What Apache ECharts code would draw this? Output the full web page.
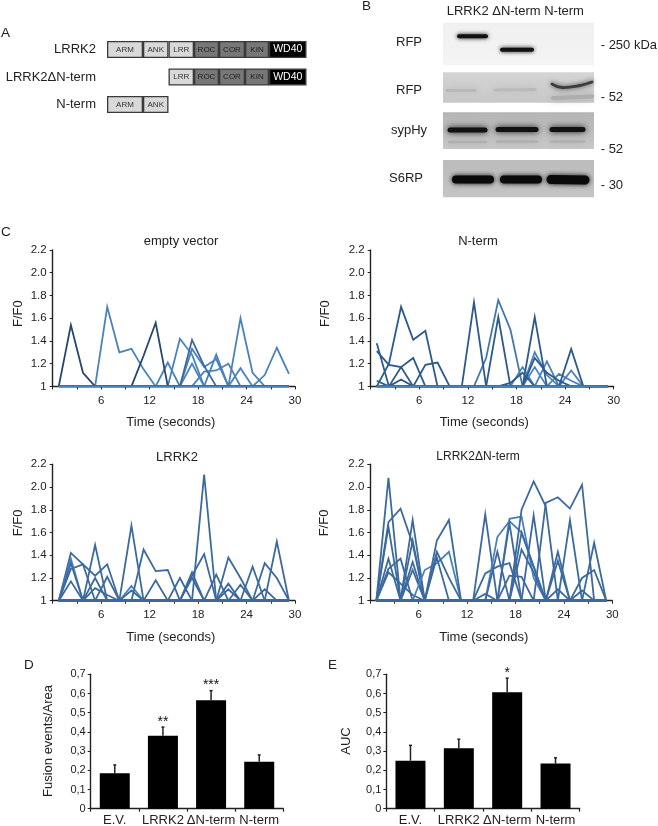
<!DOCTYPE html>
<html><head><meta charset="utf-8">
<style>html,body{margin:0;padding:0;background:#fff}#c{width:658px;height:826px}</style>
<script src="https://cdn.jsdelivr.net/npm/echarts@6/dist/echarts.min.js"></script>
</head><body><div id="c"></div>
<script>
// ---------- data ----------
const sampleTimes = [0.75,2.25,3.75,5.25,6.75,8.25,9.75,11.25,12.75,14.25,15.75,17.25,18.75,20.25,21.75,23.25,24.75,26.25,27.75,29.25];
const emptyVector = [
 [1,1,1,1,1,1,1,1,1,1.21,1,1,1,1,1,1,1,1,1,1],
 [1,1,1,1,1,1,1,1,1,1,1.42,1.28,1,1,1,1,1,1,1,1],
 [1,1,1,1,1,1,1,1,1,1,1,1.33,1.17,1.24,1,1,1,1,1,1],
 [1,1,1,1,1,1,1,1,1,1,1,1.2,1,1,1,1,1,1,1,1],
 [1,1,1,1,1,1,1,1,1,1,1,1,1,1.28,1,1,1,1,1,1],
 [1,1,1,1,1,1,1,1,1,1,1,1,1.13,1.14,1.2,1,1,1,1,1],
 [1,1,1,1,1,1,1,1,1,1,1,1,1,1,1,1.6,1.12,1,1,1],
 [1,1,1,1,1,1,1,1,1,1,1,1,1,1,1,1.16,1,1.1,1.34,1.11],
 [1,1,1,1,1.7,1.3,1.33,1.15,1,1,1,1,1,1,1,1,1,1,1,1],
 [1,1,1,1,1,1,1,1,1,1,1,1,1,1,1,1,1,1,1,1],
 [1,1,1,1,1,1,1,1,1,1,1,1.41,1.18,1,1,1,1,1,1,1],
 [1,1.54,1.12,1,1,1,1,1,1,1,1,1,1,1,1,1,1,1,1,1],
 [1,1,1,1,1,1,1,1.27,1.56,1,1,1,1,1,1,1,1,1,1,1]
];
const nTerm = [
 [1,1,1,1,1,1,1,1,1,1,1,1,1.17,1,1,1,1,1,1,1],
 [1,1,1,1,1,1,1,1,1,1,1,1,1,1.3,1.1,1,1,1,1,1],
 [1,1,1,1,1,1,1,1,1,1,1,1,1,1.17,1,1,1,1,1,1],
 [1,1,1,1,1,1,1,1,1,1,1,1,1,1,1.22,1,1,1,1,1],
 [1,1,1,1,1,1,1,1,1,1,1,1,1,1,1,1.11,1.05,1,1,1],
 [1,1,1,1,1,1,1,1,1,1,1,1,1,1,1,1,1.14,1,1,1],
 [1,1,1,1,1,1,1,1,1,1,1,1,1,1,1,1,1,1,1,1],
 [1,1,1,1,1,1,1,1,1,1.25,1.76,1.5,1,1,1,1,1,1,1,1],
 [1,1.2,1.7,1.41,1.49,1,1,1,1,1,1,1,1,1,1,1,1,1,1,1],
 [1.38,1,1,1,1,1,1,1,1,1,1,1,1,1,1,1,1,1,1,1],
 [1.31,1.19,1.17,1,1,1,1,1,1,1,1,1,1,1,1,1,1,1,1,1],
 [1.05,1,1.06,1,1,1,1,1,1,1,1,1,1,1,1,1,1,1,1,1],
 [1,1,1.17,1.25,1,1,1,1,1,1,1,1,1,1,1,1,1,1,1,1],
 [1,1,1,1,1.19,1.21,1,1,1,1,1,1,1,1,1,1,1,1,1,1],
 [1,1,1,1,1,1,1,1,1.74,1,1,1,1,1,1,1,1,1,1,1],
 [1,1,1,1,1,1,1,1,1,1,1.61,1,1,1,1,1,1,1,1,1],
 [1,1,1,1,1,1,1,1,1,1,1,1.03,1.12,1,1,1,1,1,1,1],
 [1,1,1,1,1,1,1,1,1,1,1,1,1,1.61,1,1,1,1,1,1],
 [1,1,1,1,1,1,1,1,1,1,1,1,1,1.25,1.12,1.05,1,1,1,1],
 [1,1,1,1,1,1,1,1,1,1,1,1,1,1,1,1,1.33,1,1,1]
];
const lrrk2 = [
 [1,1.42,1.32,1.22,1.32,1,1,1,1,1,1,1,1,1,1,1,1,1,1,1],
 [1,1.28,1.32,1,1,1,1,1,1,1,1,1,1,1,1,1,1,1,1,1],
 [1,1.37,1,1,1,1,1,1,1,1,1,1,1,1,1,1,1,1,1,1],
 [1,1.33,1,1,1,1,1,1,1,1,1,1,1,1,1,1,1,1,1,1],
 [1,1.17,1,1,1,1,1,1,1,1,1,1,1,1,1,1,1,1,1,1],
 [1,1,1,1.49,1,1,1,1,1,1,1,1,1,1,1,1,1,1,1,1],
 [1,1,1,1.2,1,1,1,1,1,1,1,1,1,1,1,1,1,1,1,1],
 [1,1,1,1.11,1.05,1,1,1,1,1,1,1,1,1,1,1,1,1,1,1],
 [1,1,1,1,1.21,1,1,1,1,1,1,1,1,1,1,1,1,1,1,1],
 [1,1,1,1,1,1,1.66,1,1,1,1,1,1,1,1,1,1,1,1,1],
 [1,1,1,1,1,1,1.13,1,1,1,1,1,1,1,1,1,1,1,1,1],
 [1,1,1,1,1,1,1.09,1,1,1,1,1,1,1,1,1,1,1,1,1],
 [1,1,1,1,1,1,1,1.45,1.26,1.27,1,1,1,1,1,1,1,1,1,1],
 [1,1,1,1,1,1,1,1,1.18,1,1,1,1,1,1,1,1,1,1,1],
 [1,1,1,1,1,1,1,1,1,1,1.2,1,1,1,1,1,1,1,1,1],
 [1,1,1,1,1,1,1,1,1,1,1,1.25,1,1,1,1,1,1,1,1],
 [1,1,1,1,1,1,1,1,1,1,1,1.2,1,1,1,1,1,1,1,1],
 [1,1,1,1,1,1,1,1,1,1,1,1.22,1.41,1,1,1,1,1,1,1],
 [1,1,1,1,1,1,1,1,1,1,1,1,2.11,1,1,1,1,1,1,1],
 [1,1,1,1,1,1,1,1,1,1,1,1,1,1.23,1,1,1,1,1,1],
 [1,1,1,1,1,1,1,1,1,1,1,1,1,1,1.38,1.2,1,1,1,1],
 [1,1,1,1,1,1,1,1,1,1,1,1,1,1,1.15,1,1,1,1,1],
 [1,1,1,1,1,1,1,1,1,1,1,1,1,1,1.1,1,1,1,1,1],
 [1,1,1,1,1,1,1,1,1,1,1,1,1,1,1,1.14,1,1,1,1],
 [1,1,1,1,1,1,1,1,1,1,1,1,1,1,1,1,1.3,1,1,1],
 [1,1,1,1,1,1,1,1,1,1,1,1,1,1,1,1,1,1.33,1.2,1],
 [1,1,1,1,1,1,1,1,1,1,1,1,1,1,1,1,1,1.1,1,1],
 [1,1,1,1,1,1,1,1,1,1,1,1,1,1,1,1,1,1,1.52,1]
];
const lrrk2DeltaN = [
 [1,2.08,1,1,1,1,1,1,1,1,1,1,1,1,1,1,1,1,1,1],
 [1,1.69,1.81,1.5,1,1,1,1,1,1,1,1,1,1,1,1,1,1,1,1],
 [1,1.65,1,1,1,1,1,1,1,1,1,1,1,1,1,1,1,1,1,1],
 [1,1.37,1,1,1,1,1,1,1,1,1,1,1,1,1,1,1,1,1,1],
 [1,1.28,1.37,1,1,1,1,1,1,1,1,1,1,1,1,1,1,1,1,1],
 [1,1.25,1.15,1.05,1,1,1,1,1,1,1,1,1,1,1,1,1,1,1,1],
 [1,1,1,1.71,1,1,1,1,1,1,1,1,1,1,1,1,1,1,1,1],
 [1,1,1,1.53,1,1,1,1,1,1,1,1,1,1,1,1,1,1,1,1],
 [1,1,1,1.34,1,1,1,1,1,1,1,1,1,1,1,1,1,1,1,1],
 [1,1,1,1.27,1,1,1,1,1,1,1,1,1,1,1,1,1,1,1,1],
 [1,1,1,1,1.27,1.33,1.43,1,1,1,1,1,1,1,1,1,1,1,1,1],
 [1,1,1,1,1,1.53,1.71,1,1,1,1,1,1,1,1,1,1,1,1,1],
 [1,1,1,1,1,1.43,1.2,1,1,1,1,1,1,1,1,1,1,1,1,1],
 [1,1,1,1,1,1.38,1,1,1,1,1,1,1,1,1,1,1,1,1,1],
 [1,1,1,1,1,1,1,1,1,1.76,1,1,1,1,1,1,1,1,1,1],
 [1,1,1,1,1,1,1,1,1,1.24,1.3,1.33,1,1,1,1,1,1,1,1],
 [1,1,1,1,1,1,1,1,1,1.06,1,1,1,1,1,1,1,1,1,1],
 [1,1,1,1,1,1,1,1,1,1,1.56,1.7,1.6,1.3,1,1,1,1,1,1],
 [1,1,1,1,1,1,1,1,1,1,1.43,1,1,1,1,1,1,1,1,1],
 [1,1,1,1,1,1,1,1,1,1,1,1.72,1.74,1.2,1,1,1,1,1,1],
 [1,1,1,1,1,1,1,1,1,1,1,1.68,1,1,1,1,1,1,1,1],
 [1,1,1,1,1,1,1,1,1,1,1,1.22,1.21,1,1,1,1,1,1,1],
 [1,1,1,1,1,1,1,1,1,1,1,1,1.8,2.05,1.83,1,1,1,1,1],
 [1,1,1,1,1,1,1,1,1,1,1,1,1.6,1.3,1,1,1,1,1,1],
 [1,1,1,1,1,1,1,1,1,1,1,1,1.45,1.25,1,1,1,1,1,1],
 [1,1,1,1,1,1,1,1,1,1,1,1,1,1.75,1,1,1,1,1,1],
 [1,1,1,1,1,1,1,1,1,1,1,1,1,1,1.86,1.91,1.81,2.02,1,1],
 [1,1,1,1,1,1,1,1,1,1,1,1,1,1,1,1.43,1,1,1,1],
 [1,1,1,1,1,1,1,1,1,1,1,1,1,1,1,1.35,1,1,1,1],
 [1,1,1,1,1,1,1,1,1,1,1,1,1,1,1,1.1,1,1,1,1],
 [1,1,1,1,1,1,1,1,1,1,1,1,1,1,1,1,1.71,1,1,1],
 [1,1,1,1,1,1,1,1,1,1,1,1,1,1,1,1,1,1.2,1.27,1],
 [1,1,1,1,1,1,1,1,1,1,1,1,1,1,1,1,1,1.09,1,1],
 [1,1,1,1,1,1,1,1,1,1,1,1,1,1,1,1,1,1,1.51,1]
];
const barCategories = ['E.V.','LRRK2','ΔN-term','N-term'];
const fusionMeans = [0.185,0.38,0.565,0.245];
const fusionTops  = [0.228,0.425,0.615,0.28];
const fusionStars = ['','**','***',''];
const aucMeans = [0.25,0.315,0.607,0.235];
const aucTops  = [0.33,0.362,0.68,0.265];
const aucStars = ['','','*',''];
const constructs = ['LRRK2','LRRK2ΔN-term','N-term'];
const domainNames = ['ARM','ANK','LRR','ROC','COR','KIN','WD40'];
const domainRows = [[36,25.5,25.5,25,26,24,37.5],[null,null,25.5,25,26,24,37.5],[36,25.5,null,null,null,null,null]];
const domainOffsets = [0,61.5,0];

// ---------- styling ----------
const FONT = '"Liberation Sans", Arial, sans-serif';
const INK = '#222';
const LIGHT = '#4a82bd', MID = '#3c6a9e', DARK = '#2c5a8c', DARKEST='#26466f';
const domainColors = ['#d9d9d9','#d9d9d9','#d9d9d9','#777','#777','#777','#000'];
const domainText = ['#333','#333','#333','#222','#222','#222','#fff'];
const linePanels = [
 {rows:emptyVector, x:52.7, w:242.3, y:250, color:i=>i>=11?DARKEST:(i==10?MID:LIGHT), name:'empty vector', tx:176, ty:236, tf:13, nameShift:6, yGap:28, yShift:9},
 {rows:nTerm, x:370.7, w:243, y:250, color:i=>i<7||i==6?LIGHT:(i==7?'#4377ad':DARK), name:'N-term', tx:473, ty:236, tf:13, nameShift:16, yGap:39, yShift:9},
 {rows:lrrk2, x:52.7, w:242.3, y:464.3, color:i=>(i==10||i==2)?LIGHT:MID, name:'LRRK2', tx:172, ty:452, tf:13, nameShift:6, yGap:28, yShift:19},
 {rows:lrrk2DeltaN, x:370.3, w:242, y:464.3, color:i=>(i==10||i==17||i==19)?LIGHT:MID, name:'LRRK2ΔN-term', tx:473, ty:452, tf:12, nameShift:15, yGap:39, yShift:19}
];
const H = 136.4;
const grids=[], xAxes=[], yAxes=[], series=[], titles=[];

linePanels.forEach((p,k)=>{
  grids.push({left:p.x, top:p.y, width:p.w, height:H, outerBoundsMode:'none'});
  xAxes.push({gridIndex:k,type:'value',min:0,max:30,interval:6,
    name:'Time (seconds)',nameLocation:'middle',nameGap:30,
    nameTextStyle:{fontFamily:FONT,fontSize:13,color:INK,padding:[0,p.nameShift,0,0]},
    axisLine:{show:true,lineStyle:{color:INK,width:1.4}},
    axisTick:{show:true,length:3,lineStyle:{color:INK,width:1}},
    minorTick:{show:true,splitNumber:2,length:3,lineStyle:{color:INK,width:1}},
    splitLine:{show:false},minorSplitLine:{show:false},
    axisLabel:{margin:8,fontFamily:FONT,fontSize:11.5,color:INK,formatter:v=>v===0?'':String(v)}});
  yAxes.push({gridIndex:k,type:'value',min:1,max:2.2,interval:0.2,
    name:'F/F0',nameLocation:'middle',nameGap:p.yGap,
    nameTextStyle:{fontFamily:FONT,fontSize:13,color:INK,padding:[0,0,0,p.yShift]},
    axisLine:{show:true,lineStyle:{color:INK,width:1.4}},
    axisTick:{show:true,length:3,lineStyle:{color:INK,width:1}},
    splitLine:{show:false},
    axisLabel:{margin:6,fontFamily:FONT,fontSize:11.5,color:INK,formatter:v=>Math.abs(v-1)<1e-6?'1':v.toFixed(1)}});
  p.rows.forEach((r,i)=>{
    const flat=r.every(v=>v===1);
    series.push({type:'line',xAxisIndex:k,yAxisIndex:k,silent:true,animation:false,
      showSymbol:false,symbol:'none',data:r.map((v,j)=>[sampleTimes[j],v]),
      lineStyle:{width:1.8,color:flat?LIGHT:p.color(i),join:'miter'},z:flat?60:2+i});
  });
  titles.push({text:p.name,left:p.tx,top:p.ty,textAlign:'center',textVerticalAlign:'middle',
    textStyle:{fontFamily:FONT,fontSize:p.tf,fontWeight:'normal',color:INK}});
});

const barPanels = [
 {means:fusionMeans,tops:fusionTops,stars:fusionStars,x:90.7,w:192.6,name:'Fusion events/Area',gap:36},
 {means:aucMeans,tops:aucTops,stars:aucStars,x:386.3,w:193.4,name:'AUC',gap:33}
];
barPanels.forEach((p,n)=>{
  const k=4+n;
  grids.push({left:p.x,top:674.3,width:p.w,height:134.4,outerBoundsMode:'none'});
  xAxes.push({gridIndex:k,type:'category',data:barCategories,
    axisLine:{show:true,lineStyle:{color:INK,width:1.4}},
    axisTick:{show:true,length:3,lineStyle:{color:INK,width:1.2}},
    axisLabel:{interval:0,margin:5,hideOverlap:false,fontFamily:FONT,fontSize:13,color:INK}});
  yAxes.push({gridIndex:k,type:'value',min:0,max:0.7,interval:0.1,
    name:p.name,nameLocation:'middle',nameGap:p.gap,
    nameTextStyle:{fontFamily:FONT,fontSize:13,color:INK,padding:[0,0,0,1]},
    axisLine:{show:true,lineStyle:{color:INK,width:1.4}},
    axisTick:{show:true,length:3,lineStyle:{color:INK,width:1}},
    splitLine:{show:false},
    axisLabel:{margin:5,fontFamily:FONT,fontSize:11,color:INK,formatter:v=>v===0?'0':v.toFixed(1).replace('.',',')}});
  series.push({type:'bar',xAxisIndex:k,yAxisIndex:k,data:p.means,barWidth:30,silent:true,animation:false,
    itemStyle:{color:'#000'},z:2});
  series.push({type:'custom',xAxisIndex:k,yAxisIndex:k,silent:true,animation:false,z:3,
    data:p.means.map((m,i)=>[i,m,p.tops[i],p.stars[i]]),
    encode:{x:0,y:2},
    renderItem:(params,api)=>{
      const a=api.coord([api.value(0),api.value(1)]), b=api.coord([api.value(0),api.value(2)]);
      const star=p.stars[params.dataIndex];
      const kids=[
        {type:'line',shape:{x1:a[0],y1:a[1],x2:b[0],y2:b[1]},style:{stroke:'#222',lineWidth:1.5}},
        {type:'line',shape:{x1:a[0]-1.5,y1:b[1],x2:a[0]+1.5,y2:b[1]},style:{stroke:'#222',lineWidth:1.5}}];
      if(star) kids.push({type:'text',style:{text:star,x:a[0],y:b[1]+2,align:'center',verticalAlign:'bottom',
        font:'14px '+FONT,fill:'#111'}});
      return {type:'group',children:kids};
    }});
});

// schematic (panel A): stacked horizontal bars
grids.push({left:107,top:35.75,width:200,height:82.5,outerBoundsMode:'none'});
xAxes.push({gridIndex:6,type:'value',min:0,max:200,show:false,splitLine:{show:false}});
yAxes.push({gridIndex:6,type:'category',inverse:true,data:constructs,
  axisLine:{show:false},axisTick:{show:false},
  axisLabel:{margin:11,fontFamily:FONT,fontSize:13,color:INK,interval:0}});
series.push({type:'bar',xAxisIndex:6,yAxisIndex:6,stack:'d',barWidth:17,silent:true,animation:false,
  data:domainOffsets,itemStyle:{color:'transparent',borderWidth:0}});
domainNames.forEach((nm,d)=>series.push({type:'bar',name:nm,xAxisIndex:6,yAxisIndex:6,stack:'d',barWidth:17,
  silent:true,animation:false,data:domainRows.map(r=>r[d]),
  itemStyle:{color:domainColors[d],borderColor:'#3a3a3a',borderWidth:1.3},
  label:{show:true,position:'inside',formatter:'{a}',fontFamily:FONT,fontSize:nm==='WD40'?10.5:8,color:domainText[d]}}));

// blots (panel B)
function txt(t,x,y,opt){return Object.assign({type:'text',silent:true,style:Object.assign({text:t,x:x,y:y,font:'13px '+FONT,fill:INK,verticalAlign:'middle'},opt||{})});}
function panel(x,y,w,h,c1,c2){return {type:'rect',silent:true,shape:{x:x,y:y,width:w,height:h},style:{fill:new echarts.graphic.LinearGradient(0,0,0,1,[{offset:0,color:c1},{offset:1,color:c2}])}};}
function band(pts,w,col,blur){return {type:'polyline',silent:true,shape:{points:pts,smooth:0.4},style:{stroke:col,lineWidth:w,fill:null,lineCap:'round',shadowBlur:blur,shadowColor:col}};}
const graphicEls=[
 panel(443,22.7,151,42.3,'#f0f0f0','#f4f4f4'),
 band([[459,36.3],[486,36.3]],4,'#111',4),
 band([[502,49.7],[532,49.7]],4,'#111',4),
 panel(443,72.3,151,30.4,'#d4d4d4','#c8c8c8'),
 band([[447,90.5],[475,90.5]],3,'#b8b8b8',7),
 band([[495,90],[535,89.5]],3,'#bababa',7),
 band([[553,98],[592,96.5]],4,'#adadad',7),
 band([[552,84],[562,87.5],[580,85.5],[592,82]],2.8,'#3c3c3c',5),
 panel(443,112.3,151,36.7,'#b4b4b4','#c8c8c8'),
 band([[450,130],[485,130]],5,'#111',6),
 band([[498,129.5],[536,129.5]],5,'#111',6),
 band([[552,129.5],[583,129.5]],5,'#111',6),
 band([[449,142],[486,142]],2.5,'#aeaeae',6),
 band([[497,141.5],[537,141.5]],2.5,'#aeaeae',6),
 band([[551,141.5],[584,141.5]],2.5,'#aeaeae',6),
 panel(443,160,151,37.3,'#bcbcbc','#c4c4c4'),
 band([[456,179.5],[490,179.5]],8,'#0a0a0a',5),
 band([[504,179.5],[538,179.5]],8,'#0a0a0a',5),
 band([[551,179.5],[585,180]],9,'#0a0a0a',5),
 txt('RFP',409,42.7,{align:'center'}), txt('RFP',409,90,{align:'center'}),
 txt('sypHy',409,130.7,{align:'center'}), txt('S6RP',406,178,{align:'center'}),
 txt('- 250 kDa',600.7,45), txt('- 52',600.7,97), txt('- 52',600.7,149), txt('- 30',600.7,185),
 txt('LRRK2 ΔN-term N-term',446.7,11.7),
 txt('A',1,33,{font:'13.5px '+FONT}), txt('B',362,6,{font:'13.5px '+FONT}), txt('C',1,232,{font:'13.5px '+FONT}),
 txt('D',24,665,{font:'13.5px '+FONT}), txt('E',328,665,{font:'13.5px '+FONT})
];

const chart=echarts.init(document.getElementById('c'),null,{renderer:'canvas'});
chart.setOption({animation:false,backgroundColor:'#fff',title:titles,grid:grids,xAxis:xAxes,yAxis:yAxes,series:series,graphic:{elements:graphicEls}});
</script></body></html>
